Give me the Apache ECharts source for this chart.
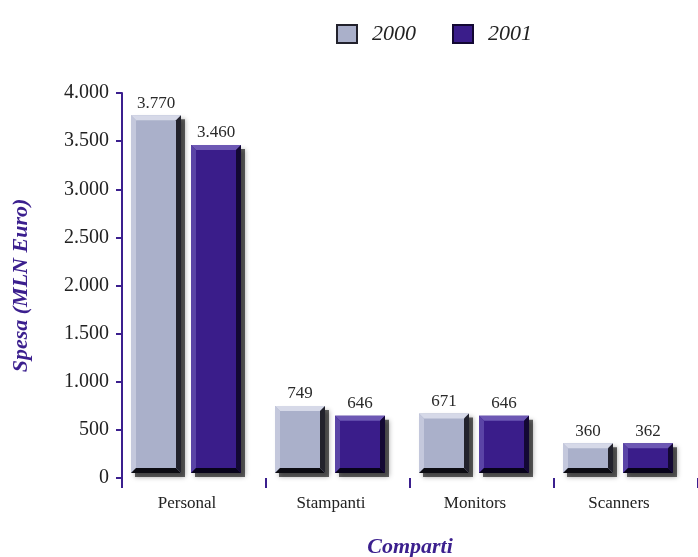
<!DOCTYPE html>
<html>
<head>
<meta charset="utf-8">
<script src="https://cdn.jsdelivr.net/npm/echarts@6/dist/echarts.min.js"></script>
<style>
  html, body { margin: 0; padding: 0; background: #ffffff; }
  #chart { width: 698px; height: 557px; }
</style>
</head>
<body>
<div id="chart"></div>
<script>
// Spesa per comparto, anni 2000 e 2001 (MLN Euro)
const categories = ['Personal', 'Stampanti', 'Monitors', 'Scanners'];
const years = ['2000', '2001'];
const values2000 = [3770, 749, 671, 360];
const values2001 = [3460, 646, 646, 362];
const yTicks = [0, 500, 1000, 1500, 2000, 2500, 3000, 3500, 4000];

const FONT = '"Liberation Serif", "DejaVu Serif", serif';
const PURPLE = '#3b1f8e';

const palettes = {
  '2000': { face: '#aab0ca', top: '#d6d9e8', left: '#c4c8dc', right: '#22222c', bottom: '#0c0c12' },
  '2001': { face: '#3a1d8a', top: '#6d58b4', left: '#5a44a6', right: '#130833', bottom: '#07031a' }
};

function fmt(v) {
  return String(v).replace(/\B(?=(\d{3})+(?!\d))/g, '.');
}

// Bevelled bar drawn around the category centre, positioned from the axis scales
function makeRender(offset, pal) {
  return function (params, api) {
    const idx = api.value(0);
    const v = api.value(1);
    const topPt = api.coord([idx, v]);
    const basePt = api.coord([idx, 0]);
    const w = 50, b = 5;
    const x0 = topPt[0] + offset;
    const y0 = topPt[1];
    const y1 = basePt[1] - 5;
    const h = Math.max(y1 - y0, 2 * b);
    const yb = y0 + h;
    return {
      type: 'group',
      children: [
        { type: 'rect', shape: { x: x0 + 4, y: y0 + 4, width: w, height: h },
          style: { fill: 'rgba(0,0,0,0.6)', shadowBlur: 5, shadowColor: 'rgba(0,0,0,0.6)' } },
        { type: 'rect', shape: { x: x0, y: y0, width: w, height: h }, style: { fill: pal.face } },
        { type: 'polygon', shape: { points: [[x0, y0], [x0 + w, y0], [x0 + w - b, y0 + b], [x0 + b, y0 + b]] },
          style: { fill: pal.top } },
        { type: 'polygon', shape: { points: [[x0, y0], [x0 + b, y0 + b], [x0 + b, yb - b], [x0, yb]] },
          style: { fill: pal.left } },
        { type: 'polygon', shape: { points: [[x0 + w, y0], [x0 + w, yb], [x0 + w - b, yb - b], [x0 + w - b, y0 + b]] },
          style: { fill: pal.right } },
        { type: 'polygon', shape: { points: [[x0, yb], [x0 + w, yb], [x0 + w - b, yb - b], [x0 + b, yb - b]] },
          style: { fill: pal.bottom } },
        { type: 'text', x: x0 + w / 2, y: y0 - 12,
          style: { text: fmt(v), fill: '#2a2a2a', font: '17px ' + FONT, align: 'center', verticalAlign: 'middle' } }
      ]
    };
  };
}

function seriesFor(name, vals, offset) {
  const pal = palettes[name];
  return {
    type: 'custom',
    name: name,
    clip: false,
    encode: { x: 0, y: 1 },
    itemStyle: { color: pal.face },
    data: vals.map((v, i) => [i, v]),
    renderItem: makeRender(offset, pal)
  };
}

const chart = echarts.init(document.getElementById('chart'));
chart.setOption({
  backgroundColor: '#ffffff',
  animation: false,
  legend: {
    data: years.map((y) => ({ name: y, itemStyle: { color: palettes[y].face, borderColor: palettes[y].right, borderWidth: 2 } })),
    left: 331,
    top: 18,
    icon: 'rect',
    itemWidth: 20,
    itemHeight: 18,
    itemGap: 36,
    textStyle: { fontFamily: FONT, fontStyle: 'italic', fontSize: 22, color: '#222', padding: [0, 0, 0, 10] }
  },
  grid: { left: 122, right: 0, top: 93, bottom: 79, outerBoundsMode: 'none' },
  xAxis: {
    type: 'category',
    data: categories,
    name: 'Comparti',
    nameLocation: 'middle',
    nameGap: 58,
    nameTextStyle: { fontFamily: FONT, fontStyle: 'italic', fontWeight: 'bold', fontSize: 22, color: PURPLE },
    axisLine: { show: false },
    axisTick: { show: true, alignWithLabel: false, length: 10, lineStyle: { color: PURPLE, width: 2 } },
    axisLabel: { fontFamily: FONT, fontSize: 17, color: '#222', margin: 17, padding: [0, 14, 0, 0] }
  },
  yAxis: {
    type: 'value',
    min: 0,
    max: 4000,
    interval: 500,
    name: 'Spesa (MLN Euro)',
    nameLocation: 'middle',
    nameGap: 90,
    nameRotate: 90,
    nameTextStyle: { fontFamily: FONT, fontStyle: 'italic', fontWeight: 'bold', fontSize: 22, color: PURPLE },
    splitLine: { show: false },
    axisLine: { show: true, lineStyle: { color: PURPLE, width: 2 } },
    axisTick: { show: true, length: 6, lineStyle: { color: PURPLE, width: 2 } },
    axisLabel: {
      fontFamily: FONT, fontSize: 20, color: '#222', margin: 13,
      formatter: (v) => (yTicks.indexOf(v) >= 0 ? fmt(v) : '')
    }
  },
  series: [
    seriesFor('2000', values2000, -63),
    seriesFor('2001', values2001, -3)
  ]
});
</script>
</body>
</html>
